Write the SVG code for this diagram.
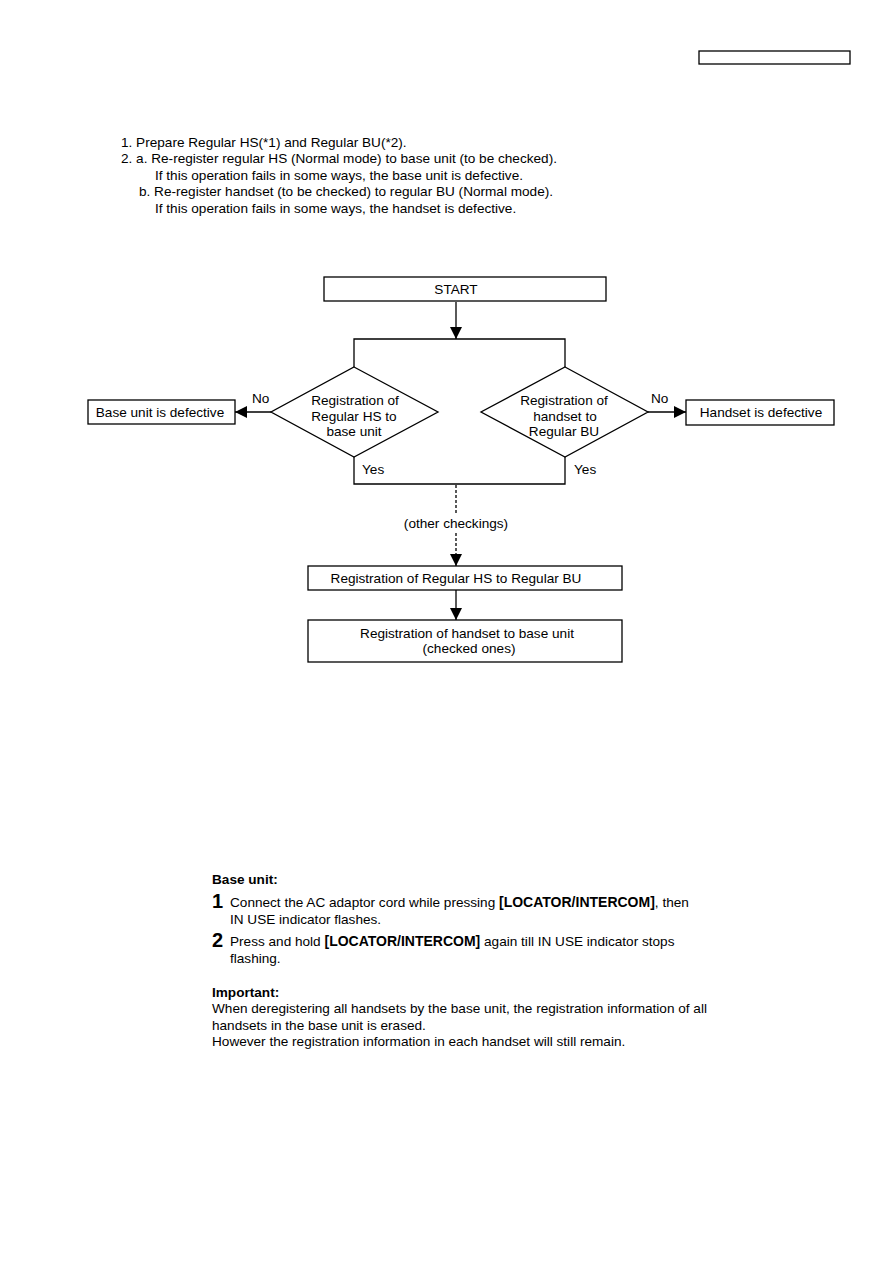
<svg xmlns="http://www.w3.org/2000/svg" width="893" height="1263" viewBox="0 0 893 1263">
<style>
text{font-family:"Liberation Sans",Arial,sans-serif;font-size:13.6px;fill:#000}
.c{text-anchor:middle}
.b{font-weight:bold}
.box{fill:#fff;stroke:#000;stroke-width:1.3}
.ln{fill:none;stroke:#000;stroke-width:1.3}
.dash{fill:none;stroke:#000;stroke-width:1.3;stroke-dasharray:3,2}
</style>
<defs>
<marker id="ah" markerWidth="12" markerHeight="12" refX="12" refY="6" orient="auto" markerUnits="userSpaceOnUse">
<path d="M0,0 L12,6 L0,12 Z" fill="#000"/>
</marker>
</defs>
<rect width="893" height="1263" fill="#fff"/>
<rect x="699" y="51" width="151" height="13" fill="none" stroke="#000" stroke-width="1.3"/>

<g id="intro">
<text x="121" y="147">1. Prepare Regular HS(*1) and Regular BU(*2).</text>
<text x="121" y="163">2. a. Re-register regular HS (Normal mode) to base unit (to be checked).</text>
<text x="155" y="180">If this operation fails in some ways, the base unit is defective.</text>
<text x="139" y="196">b. Re-register handset (to be checked) to regular BU (Normal mode).</text>
<text x="155" y="213">If this operation fails in some ways, the handset is defective.</text>
</g>

<g id="connectors">
<line class="ln" x1="456" y1="302" x2="456" y2="339" marker-end="url(#ah)"/>
<polyline class="ln" points="354,367 354,339 565,339 565,367"/>
<polyline class="ln" points="354,457 354,484 565,484 565,457"/>
<line class="ln" x1="271" y1="412" x2="235" y2="412" marker-end="url(#ah)"/>
<line class="ln" x1="648" y1="412" x2="686" y2="412" marker-end="url(#ah)"/>
<line class="dash" x1="456" y1="485" x2="456" y2="513"/>
<line class="dash" x1="456" y1="533" x2="456" y2="566" marker-end="url(#ah)"/>
<line class="ln" x1="456" y1="590" x2="456" y2="620" marker-end="url(#ah)"/>
<text x="252" y="403">No</text>
<text x="651" y="403">No</text>
<text x="362" y="474">Yes</text>
<text x="574" y="474">Yes</text>
<text class="c" x="456" y="528">(other checkings)</text>
</g>

<g id="start">
<rect class="box" x="324" y="277" width="282" height="24"/>
<text class="c" x="456" y="294">START</text>
</g>

<g id="dec-hs">
<polygon class="box" points="354,367 438,412 354,457 271,412"/>
<text class="c" x="355" y="405">Registration of</text>
<text class="c" x="354" y="421">Regular HS to</text>
<text class="c" x="354" y="436">base unit</text>
</g>

<g id="dec-bu">
<polygon class="box" points="565,367 648,412 565,457 481,412"/>
<text class="c" x="564" y="405">Registration of</text>
<text class="c" x="565" y="421">handset to</text>
<text class="c" x="564" y="436">Regular BU</text>
</g>

<g id="base-defective">
<rect class="box" x="88" y="400" width="147" height="24"/>
<text class="c" x="160" y="417">Base unit is defective</text>
</g>

<g id="handset-defective">
<rect class="box" x="686" y="400" width="148" height="25"/>
<text class="c" x="761" y="417">Handset is defective</text>
</g>

<g id="reg-hs-bu">
<rect class="box" x="308" y="566" width="314" height="24"/>
<text class="c" x="456" y="583">Registration of Regular HS to Regular BU</text>
</g>

<g id="reg-handset-base">
<rect class="box" x="308" y="620" width="314" height="42"/>
<text class="c" x="467" y="638">Registration of handset to base unit</text>
<text class="c" x="469" y="653">(checked ones)</text>
</g>

<g id="notes">
<text class="b" x="212" y="884">Base unit:</text>
<text class="b" x="212" y="908" style="font-size:20px">1</text>
<text x="230" y="907">Connect the AC adaptor cord while pressing <tspan class="b" style="font-size:14px">[LOCATOR/INTERCOM]</tspan>, then</text>
<text x="230" y="924">IN USE indicator flashes.</text>
<text class="b" x="212" y="947" style="font-size:20px">2</text>
<text x="230" y="946">Press and hold <tspan class="b" style="font-size:14px">[LOCATOR/INTERCOM]</tspan> again till IN USE indicator stops</text>
<text x="230" y="963">flashing.</text>
<text class="b" x="212" y="997">Important:</text>
<text x="212" y="1013">When deregistering all handsets by the base unit, the registration information of all</text>
<text x="212" y="1030">handsets in the base unit is erased.</text>
<text x="212" y="1046">However the registration information in each handset will still remain.</text>
</g>
</svg>
